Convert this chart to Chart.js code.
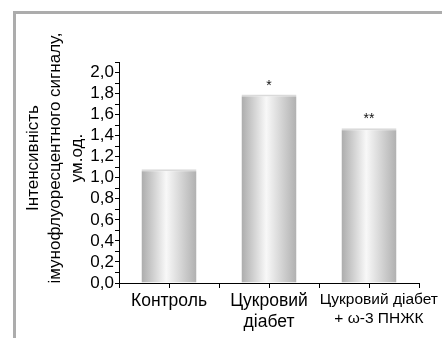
<!DOCTYPE html>
<html lang="uk">
<head>
<meta charset="UTF-8">
<title>Інтенсивність імунофлуоресцентного сигналу</title>
<script src="https://cdn.jsdelivr.net/npm/chart.js"></script>
<style>
  html, body { margin: 0; padding: 0; background: #fff; }
  #frame { position: absolute; left: 13px; top: 11px; width: 429px; height: 327px;
           border-left: 3px solid #acacac; border-top: 3px solid #acacac; box-sizing: border-box; }
  #chart { position: absolute; left: 0; top: 0; }
</style>
</head>
<body>
<div id="frame"></div>
<canvas id="chart" width="442" height="338"></canvas>
<script>
// data
const categories = [['Контроль'], ['Цукровий', 'діабет'], ['Цукровий діабет', '+ ω-3 ПНЖК']];
const positions = [1, 2, 3];
const values = [1.08, 1.79, 1.47];
const marks = ['', '*', '**'];
const yTitle = ['Інтенсивність', 'імунофлуоресцентного сигналу,', 'ум.од.'];

const FONT = "'Liberation Sans', Arial, sans-serif";
const BAR_FRACTION = 0.55;   // bar width as part of one category

function barGradient(ctx) {
    const chart = ctx.chart;
    const xs = chart.scales.x;
    if (ctx.type !== 'data' || !xs) return '#d0d0d0';
    const cx = xs.getPixelForValue(positions[ctx.dataIndex]);
    const half = (xs.getPixelForValue(1) - xs.getPixelForValue(0)) * BAR_FRACTION / 2;
    if (!isFinite(cx) || !isFinite(half)) return '#d0d0d0';
    const g = chart.ctx.createLinearGradient(cx - half, 0, cx + half, 0);
    g.addColorStop(0, '#acacac');
    g.addColorStop(0.45, '#f8f8f8');
    g.addColorStop(1, '#b0b0b0');
    return g;
}

// asterisks above the bars
const marksPlugin = {
    id: 'marks',
    afterDatasetsDraw(chart) {
        const ctx = chart.ctx;
        const meta = chart.getDatasetMeta(0);
        ctx.save();
        ctx.fillStyle = '#111';
        ctx.font = '14px ' + FONT;
        ctx.textAlign = 'center';
        ctx.textBaseline = 'alphabetic';
        meta.data.forEach((bar, i) => {
            if (marks[i]) ctx.fillText(marks[i], bar.x, bar.y - 5);
        });
        ctx.restore();
    }
};

// rotated y-axis title, three lines
const yTitlePlugin = {
    id: 'yTitle',
    afterDraw(chart) {
        const ctx = chart.ctx;
        ctx.save();
        ctx.fillStyle = '#000';
        ctx.font = '17px ' + FONT;
        ctx.textAlign = 'center';
        ctx.textBaseline = 'middle';
        yTitle.forEach((line, i) => {
            ctx.save();
            ctx.translate(33 + i * 22, 158);
            ctx.rotate(-Math.PI / 2);
            ctx.fillText(line, 0, 0);
            ctx.restore();
        });
        ctx.restore();
    }
};

new Chart(document.getElementById('chart'), {
    type: 'bar',
    data: {
        datasets: [{
            data: positions.map((p, i) => ({ x: p, y: values[i] })),
            backgroundColor: barGradient,
            borderColor: '#dadada',
            borderWidth: { top: 2, left: 0, right: 0, bottom: 0 },
            borderSkipped: false,
            categoryPercentage: 1,
            // the sample spacing is the 0.5 tick step, so double it
            barPercentage: BAR_FRACTION * 2
        }]
    },
    options: {
        responsive: false,
        animation: false,
        events: [],
        layout: { padding: { left: 0, right: 23, top: 62, bottom: 0 } },
        plugins: { legend: { display: false }, tooltip: { enabled: false } },
        scales: {
            x: {
                type: 'linear',
                min: 0.5,
                max: 3.5,
                offset: false,
                afterFit: s => { s.height = 55; },
                border: { color: '#000', width: 1 },
                grid: { drawOnChartArea: false, offset: false, color: '#000', tickLength: 5 },
                ticks: {
                    stepSize: 0.5,
                    autoSkip: false,
                    maxRotation: 0,
                    padding: 3,
                    color: '#000',
                    font: c => {
                        const idx = positions.indexOf(c.tick && c.tick.value);
                        return idx === 2 ? { family: FONT, size: 15.5, lineHeight: 1.18 }
                                         : { family: FONT, size: 17.5, lineHeight: 1.2 };
                    },
                    callback: v => {
                        const idx = positions.indexOf(v);
                        if (idx < 0) return '';
                        // the last label sits a little right of its bar in the original
                        return idx === 2 ? categories[idx].map(s => '\u2003 ' + s) : categories[idx];
                    }
                }
            },
            y: {
                min: 0,
                max: 2.1,
                afterFit: s => { s.width = 119; },
                border: { color: '#000', width: 1 },
                grid: { drawOnChartArea: false, color: '#000', tickLength: 4 },
                ticks: {
                    stepSize: 0.1,
                    autoSkip: false,
                    padding: 1,
                    color: '#000',
                    font: { family: FONT, size: 17 },
                    callback: v => {
                        const k = Math.round(v * 10);
                        return (k % 2 === 0 && k <= 20) ? (k / 10).toFixed(1).replace('.', ',') : '';
                    }
                }
            }
        }
    },
    plugins: [marksPlugin, yTitlePlugin]
});
</script>
</body>
</html>
